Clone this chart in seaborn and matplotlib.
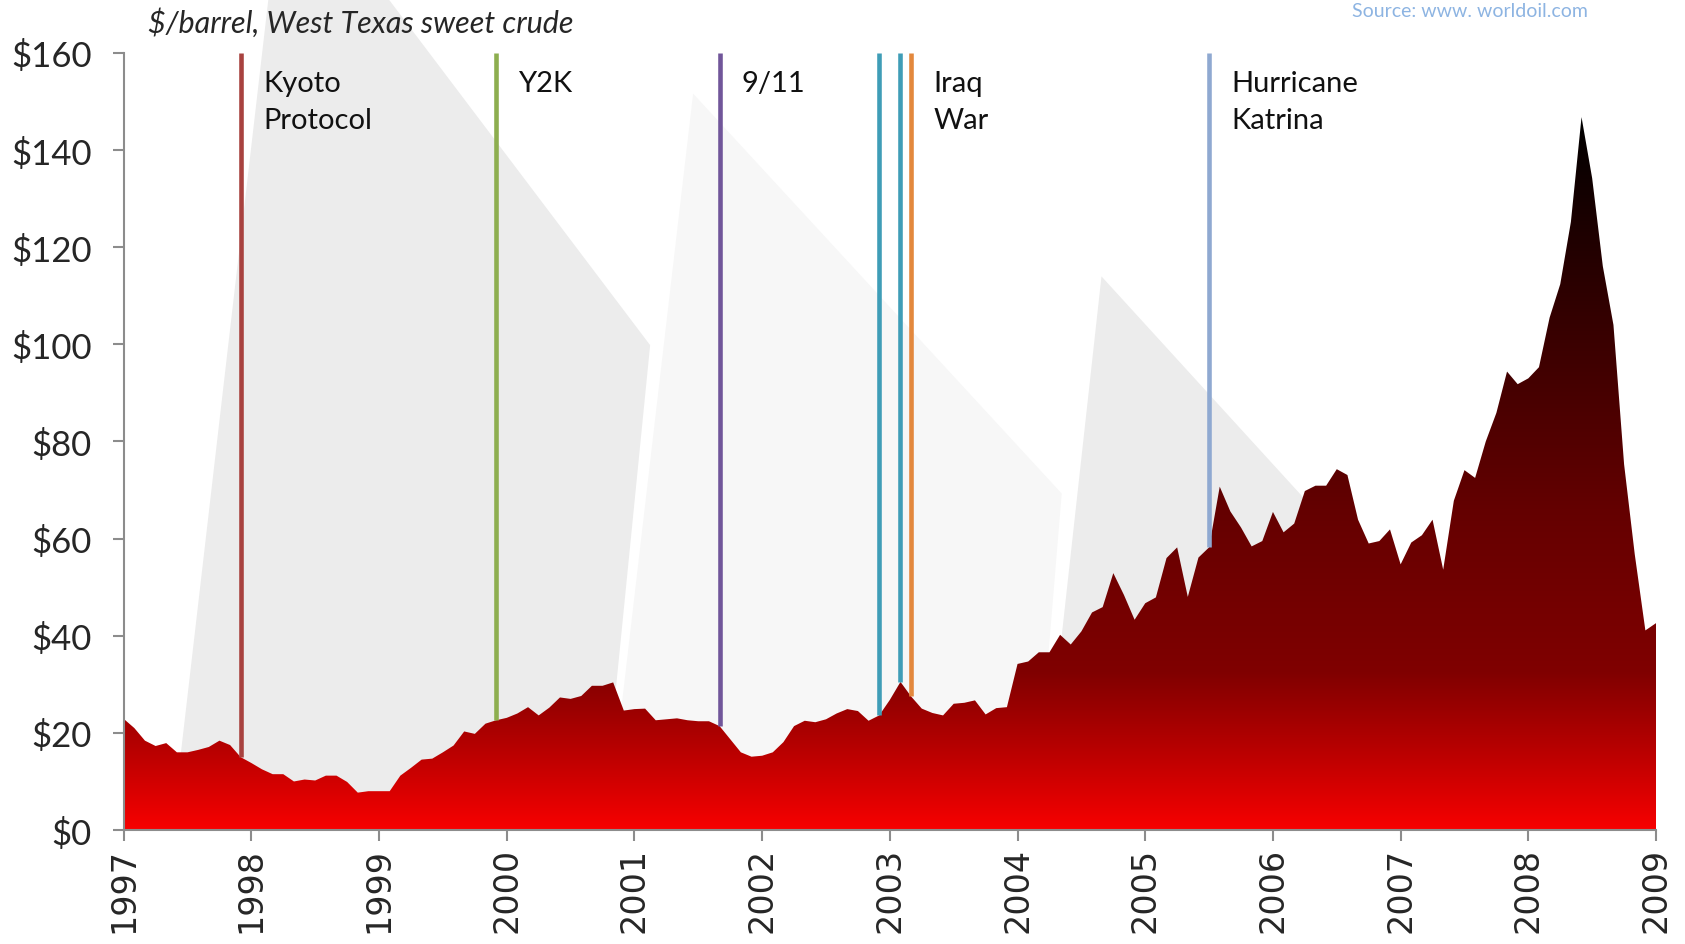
import numpy as np
import pandas as pd
import matplotlib
matplotlib.use("Agg")
import matplotlib.pyplot as plt
import seaborn as sns
from matplotlib.colors import LinearSegmentedColormap
from matplotlib.patches import Polygon

# monthly WTI price, Jan 1997 .. Jan 2009
p1997 = [22.9, 21.0, 18.4, 17.3, 17.9, 16.0, 16.0, 16.5, 17.1, 18.4, 17.5, 15.0]
p1998 = [13.8, 12.5, 11.5, 11.5, 10.0, 10.4, 10.2, 11.2, 11.2, 9.9, 7.7, 8.0]
p1999 = [8.0, 8.0, 11.2, 12.8, 14.5, 14.7, 16.0, 17.4, 20.3, 19.8, 21.9, 22.6]
p2000 = [23.1, 24.0, 25.3, 23.6, 25.2, 27.3, 27.0, 27.6, 29.7, 29.7, 30.4, 24.6]
p2001 = [24.9, 25.0, 22.6, 22.8, 23.0, 22.6, 22.4, 22.4, 21.4, 18.7, 16.0, 15.1]
p2002 = [15.3, 16.0, 18.1, 21.4, 22.5, 22.2, 22.8, 24.0, 24.9, 24.5, 22.5, 23.6]
p2003 = [26.8, 30.5, 27.5, 25.0, 24.1, 23.6, 26.0, 26.2, 26.7, 23.8, 25.1, 25.3]
p2004 = [34.2, 34.7, 36.6, 36.6, 40.2, 38.2, 40.9, 44.8, 45.9, 52.9, 48.4, 43.3]
p2005 = [46.7, 47.9, 56.0, 58.2, 48.0, 56.1, 58.2, 70.7, 65.6, 62.3, 58.4, 59.5]
p2006 = [65.5, 61.3, 63.1, 69.8, 70.9, 70.9, 74.3, 73.1, 63.9, 59.0, 59.5, 61.9]
p2007 = [54.7, 59.2, 60.7, 63.9, 53.6, 67.8, 74.1, 72.5, 80.0, 85.9, 94.4, 91.8]
p2008 = [93.0, 95.3, 105.5, 112.4, 125.2, 146.8, 134.2, 116.1, 104.0, 75.3, 56.8, 41.1]
p2009 = [42.6]

years = list(range(1997, 2010))
price = p1997 + p1998 + p1999 + p2000 + p2001 + p2002 + p2003 + p2004 + p2005 + p2006 + p2007 + p2008 + p2009
months = np.arange(len(price))

event_labels = ["Kyoto\nProtocol", "Y2K", "9/11", "", "", "Iraq\nWar", "Hurricane\nKatrina"]
event_month = [11, 35, 56, 71, 73, 74, 102]
event_colors = ["#A8423F", "#8DAE4F", "#71569A", "#3F9DB7", "#3F9DB7", "#E3883D", "#8FA9D1"]

oil = pd.DataFrame({"month": months, "price": price})

sns.set_style("ticks")
plt.rcParams["font.family"] = ["Lato", "DejaVu Sans"]

fig = plt.figure(figsize=(16.85, 9.45), dpi=100)
ax = fig.add_axes([0.0734, 0.1206, 0.9094, 0.8223])
ax.set_facecolor("none")

# decorative grey "sails" behind the chart (figure fraction)
W, H = 1568.0, 879.0
sails = [
    ([(160, 773), (250, -2), (360, -2), (605, 322), (560, 773)], "#ECECEC"),
    ([(565, 773), (645, 88), (988, 460), (962, 773)], "#F7F7F7"),
    ([(968, 773), (1025, 258), (1330, 592), (1330, 773)], "#ECECEC"),
]
for pts, c in sails:
    fpts = [(x / W, 1 - y / H) for x, y in pts]
    fig.add_artist(Polygon(fpts, closed=True, transform=fig.transFigure,
                           facecolor=c, edgecolor="none", zorder=-5))

# area with red -> black gradient
sns.lineplot(data=oil, x="month", y="price", ax=ax, linewidth=0)
fill = ax.fill_between(oil["month"], 0, oil["price"], facecolor="none", edgecolor="none")
cmap = LinearSegmentedColormap.from_list("oil", [
    (0.0, "#F70000"), (0.10, "#BE0000"), (0.22, "#800000"),
    (0.45, "#640000"), (0.70, "#380000"), (1.0, "#000000")])
grad = ax.imshow(np.linspace(0, 1, 256).reshape(-1, 1), cmap=cmap, origin="lower",
                 extent=[0, months[-1], 0, max(price)], aspect="auto", zorder=2)
grad.set_clip_path(fill.get_paths()[0], transform=ax.transData)

# event markers
for lab, m, c in zip(event_labels, event_month, event_colors):
    ax.vlines(m, price[m], 160, color=c, linewidth=3.3, zorder=3)
    if lab:
        ax.annotate(lab, xy=(m, 160), xytext=(16, -12), textcoords="offset points",
                    ha="left", va="top", fontsize=21, linespacing=1.55, color="#111111")

ax.set_xlim(0, months[-1])
ax.set_ylim(0, 160)
ax.set_yticks(range(0, 161, 20))
ax.set_yticklabels([f"${v}" for v in range(0, 161, 20)], fontsize=25)
ax.set_xticks(np.arange(0, len(price), 12))
ax.set_xticklabels([str(y) for y in years], rotation=90, fontsize=24, family="DejaVu Sans")
ax.set_xlabel("")
ax.set_ylabel("")
sns.despine(ax=ax)
for s in ["left", "bottom"]:
    ax.spines[s].set_color("#8C8C8C")
    ax.spines[s].set_linewidth(1.5)
ax.tick_params(axis="both", direction="out", length=8, width=1.5, color="#8C8C8C")
ax.tick_params(axis="y", pad=15)
ax.tick_params(axis="x", pad=4)

fig.text(138 / W, 1 - 21 / H, "$/barrel, West Texas sweet crude", style="italic",
         fontsize=22, va="center", ha="left")
fig.text(1478 / W, 1 - 11 / H, "Source: www. worldoil.com", color="#8DB4E2",
         fontsize=14, va="center", ha="right")

fig.savefig("out.png", dpi=100)
